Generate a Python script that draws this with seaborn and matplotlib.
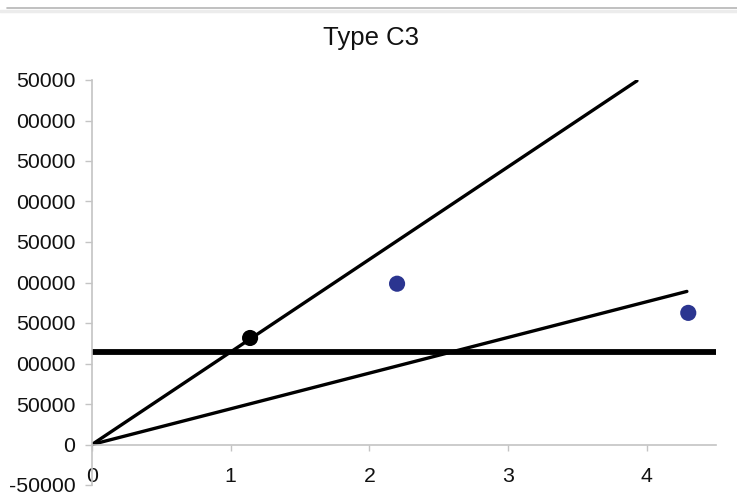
import numpy as np
import pandas as pd
import matplotlib
matplotlib.use("Agg")
import matplotlib.pyplot as plt
from matplotlib.lines import Line2D
from matplotlib.ticker import FixedLocator, FixedFormatter
import seaborn as sns

# --- data ---
steep_x = [0.0, 3.93]
steep_y = [0.0, 449000.0]
shallow_x = [0.0, 4.29]
shallow_y = [0.0, 189000.0]
level_x = [0.0, 4.5]
level_y = [114500.0, 114500.0]
black_pt_x = [1.14]
black_pt_y = [131500.0]
blue_pts_x = [2.20, 4.30]
blue_pts_y = [198500.0, 162500.0]

y_ticks = [-50000, 0, 50000, 100000, 150000, 200000, 250000, 300000, 350000, 400000, 450000]
y_tick_labels = ["-50000", "0", "50000", "00000", "50000", "00000", "50000",
                 "00000", "50000", "00000", "50000"]
x_ticks = [0, 1, 2, 3, 4]
x_tick_labels = ["0", "1", "2", "3", "4"]
title = "Type C3"

sns.set_style("white")
plt.rcParams["font.family"] = ["Liberation Sans", "DejaVu Sans"]

W, H = 737, 499
fig = plt.figure(figsize=(W / 100, H / 100), dpi=100)
x0_px, x45_px = 92, 716
y_bot_px, y_top_px = 485, 80
ax = fig.add_axes([x0_px / W, 1 - y_bot_px / H, (x45_px - x0_px) / W, (y_bot_px - y_top_px) / H])

lines = pd.DataFrame({
    "x": steep_x + shallow_x + level_x,
    "y": steep_y + shallow_y + level_y,
    "series": ["steep"] * 2 + ["shallow"] * 2 + ["level"] * 2,
})
sns.lineplot(data=lines[lines.series != "level"], x="x", y="y", units="series",
             estimator=None, color="black", linewidth=2.4, ax=ax, sort=False)
sns.lineplot(data=lines[lines.series == "level"], x="x", y="y",
             estimator=None, color="black", linewidth=4.2, ax=ax, sort=False,
             solid_capstyle="butt")

sns.scatterplot(x=black_pt_x, y=black_pt_y, color="black", s=135, edgecolor="none",
                ax=ax, zorder=5)
sns.scatterplot(x=blue_pts_x, y=blue_pts_y, color="#2b3590", s=135, edgecolor="none",
                ax=ax, zorder=5)

ax.set_xlim(0, 4.5)
ax.set_ylim(-50000, 450000)
ax.set_xlabel("")
ax.set_ylabel("")

for s in ["top", "right"]:
    ax.spines[s].set_visible(False)
ax.spines["bottom"].set_position(("data", 0))
ax.spines["left"].set_color("#c4c4c4")
ax.spines["bottom"].set_color("#c4c4c4")
ax.spines["left"].set_linewidth(1.2)
ax.spines["bottom"].set_linewidth(1.2)

ax.yaxis.set_major_locator(FixedLocator(y_ticks))
ax.yaxis.set_major_formatter(FixedFormatter(y_tick_labels))
ax.xaxis.set_major_locator(FixedLocator(x_ticks))
ax.xaxis.set_major_formatter(FixedFormatter(x_tick_labels))
ax.tick_params(axis="y", direction="out", length=5, width=1, color="#c4c4c4",
               pad=7, labelsize=15.3, labelcolor="#111111", left=True)
ax.tick_params(axis="x", direction="out", length=4, width=1, color="#c4c4c4",
               pad=12.5, labelsize=15.3, labelcolor="#111111", bottom=True)

fig.text(371 / W, 1 - 38 / H, title, ha="center", va="center", fontsize=18.5,
         color="#111111")

# thin frame line across the top
fig.add_artist(Line2D([0.01, 1.0], [1 - 7.5 / H, 1 - 7.5 / H], color="#b5b5b5",
                      linewidth=1.2))
fig.add_artist(Line2D([0.0, 1.0], [1 - 11 / H, 1 - 11 / H], color="#ececec",
                      linewidth=2.5))

fig.savefig("out.png", dpi=100, facecolor="white")
